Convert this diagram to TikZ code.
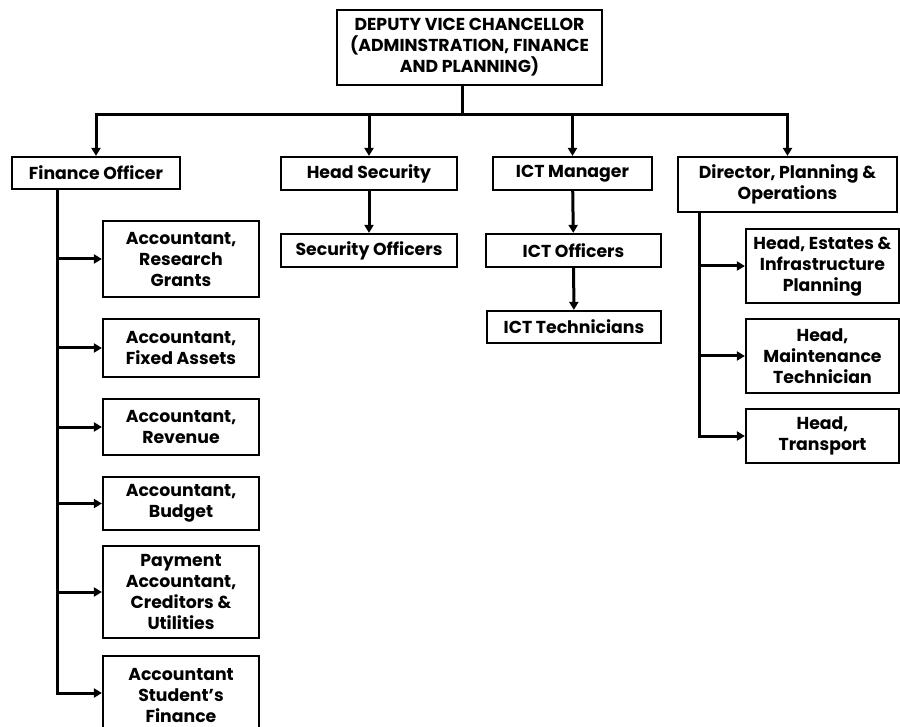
\documentclass[tikz,border=0pt]{standalone}
\usepackage{fontspec}
\setmainfont{Poppins}
\usepackage{tikz}
\usetikzlibrary{arrows.meta,positioning,calc}

\begin{document}
\begin{tikzpicture}[
  x=1pt,y=-1pt,
  line cap=butt,line join=miter,
  font=\bfseries\fontsize{17.3}{21}\selectfont,
  post/.style={draw=black,line width=2.2pt,align=center,inner sep=1pt,
               minimum width=#1},
  post/.default=156pt,
  link/.style={line width=3pt,draw=black},
  arrow/.style={-{Triangle[length=8pt,width=9pt]},line width=3pt,draw=black}
]
\useasboundingbox (0,0) rectangle (900,727);
\fill[white] (0,0) rectangle (900,727);
\clip (0,0) rectangle (900,727);

% top
\node[post=265pt,minimum height=75pt] (dvc) at (469.5,47.5)
  {DEPUTY VICE CHANCELLOR\\(ADMINSTRATION, FINANCE\\AND PLANNING)};

% second level
\node[post=168pt,minimum height=32pt] (fin) at (96,173) {Finance Officer};
\node[post=176pt,minimum height=33pt] (sec) at (369,173.5) {Head Security};
\node[post=159pt,minimum height=33pt] (ict) at (572.5,173.5) {ICT Manager};
\node[post=219pt,minimum height=55pt] (dir) at (787.5,184.5)
  {Director, Planning \&\\Operations};

% security and ICT
\node[post=176pt,minimum height=33pt] (secoff) at (369,250.5) {Security Officers};
\node[post=175pt,minimum height=33pt] (ictoff) at (573.5,250.5) {ICT Officers};
\node[post=174pt,minimum height=32pt] (icttech) at (574,327) {ICT Technicians};

% finance staff
\node[post,minimum height=76pt] (grants) at (181,259) {Accountant,\\Research\\Grants};
\node[post,minimum height=58pt] (fixed) at (181,348) {Accountant,\\Fixed Assets};
\node[post,minimum height=56pt] (revenue) at (181,427) {Accountant,\\Revenue};
\node[post,minimum height=53pt] (budget) at (181,503.5) {Accountant,\\Budget};
\node[post,minimum height=92pt] (payment) at (181,592)
  {Payment\\Accountant,\\Creditors \&\\Utilities};
\node[post,minimum height=78pt] (student) at (181,695)
  {Accountant\\Student’s\\Finance};

% planning staff
\node[post=153pt,minimum height=74pt] (estates) at (822.5,266)
  {Head, Estates \&\\Infrastructure\\Planning};
\node[post=153pt,minimum height=74pt] (maint) at (822.5,356)
  {Head,\\Maintenance\\Technician};
\node[post=153pt,minimum height=54pt] (transport) at (822.5,436)
  {Head,\\Transport};

% bus under the top post
\coordinate (bus) at ($(dvc.south)+(-7.5,28)$);
\draw[link] (dvc.south -| bus) -- (bus);
\draw[link] ($(fin.north |- bus)+(-1.5,0)$) -- ($(dir.north |- bus)+(1.5,0)$);
\foreach \n in {fin,sec,ict,dir}
  \draw[arrow] (\n.north |- bus) -- (\n.north);

\draw[arrow] (sec) -- (secoff);
\draw[arrow] (ict) -- (ictoff);
\draw[arrow] (ictoff) -- (icttech);

% finance spine
\coordinate (finL) at ($(fin.south west)+(47,0)$);
\draw[link] (finL) -- ($(finL |- student.west)+(0,-0.5)$);
\foreach \n in {grants,fixed,revenue,budget,payment}
  \draw[arrow] ($(finL |- \n.west)+(-1.5,0)$) -- (\n.west);
\draw[arrow] ($(finL |- student.west)+(-1.5,-2)$) -- ($(student.west)+(0,-2)$);

% planning spine
\coordinate (dirL) at ($(dir.south west)+(23,0)$);
\draw[link] (dirL) -- ($(dirL |- transport.west)+(0,1.5)$);
\foreach \n in {estates,maint,transport}
  \draw[arrow] ($(dirL |- \n.west)+(-1.5,0)$) -- (\n.west);
\end{tikzpicture}
\end{document}
